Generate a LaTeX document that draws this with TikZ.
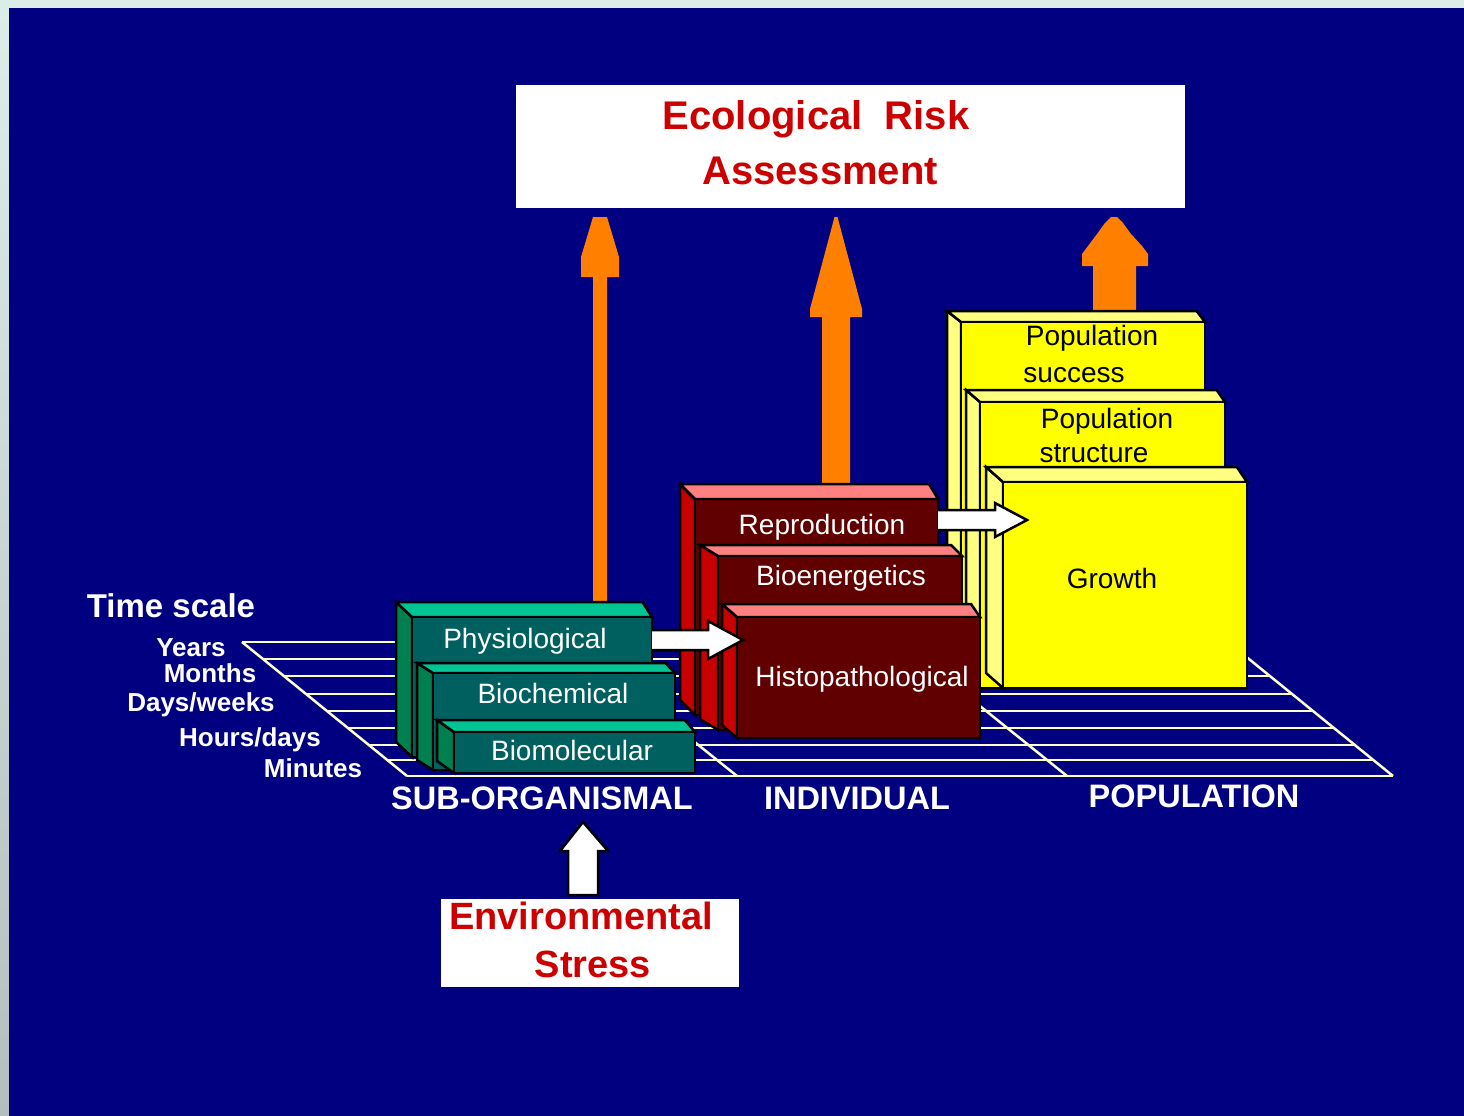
\documentclass[tikz,border=0pt]{standalone}
\usepackage{fontspec}
\setmainfont{Liberation Sans}
\usetikzlibrary{calc}
\definecolor{navy}{HTML}{000080}
\definecolor{marginc}{HTML}{DCEDE8}
\definecolor{margingray}{HTML}{B4BEBE}
\definecolor{arrowor}{HTML}{FF8000}
\definecolor{gridc}{HTML}{FFFFCC}
\definecolor{titlered}{HTML}{CC0000}
\definecolor{gfront}{HTML}{006060}
\definecolor{gtop}{HTML}{00C494}
\definecolor{gside}{HTML}{008050}
\definecolor{rfront}{HTML}{600000}
\definecolor{rtop}{HTML}{FF8080}
\definecolor{rside}{HTML}{C80000}
\definecolor{yfront}{HTML}{FFFF00}
\definecolor{ytop}{HTML}{FFFF80}
\definecolor{yside}{HTML}{FFFF80}
\newcommand{\fs}[1]{\fontsize{#1}{#1}\selectfont}
\tikzset{
  gridline/.style={draw=gridc, line width=2.5pt},
  face/.style={draw=black, line width=2.5pt, line join=miter},
  frontface/.style={face, anchor=north west, inner sep=0pt, outer sep=0pt},
  boxtext/.style={anchor=base, text=white, font=\fs{28}},
  poptext/.style={anchor=base, text=black, font=\fs{28}},
  scaletext/.style={anchor=base, text=white, font=\bfseries\fs{26}},
  axistext/.style={anchor=base, text=white, font=\bfseries\fs{32.5}},
  titletext/.style={anchor=base, text=titlered, font=\bfseries\fs{40}},
  stresstext/.style={anchor=base, text=titlered, font=\bfseries\fs{38}},
  orangearrow/.style={fill=arrowor},
  whitearrow/.style={fill=white, draw=black, line width=2.5pt, line join=miter},
  whitebox/.style={fill=white, anchor=north west, inner sep=0pt, outer sep=0pt},
}
% #1 name, #2 fx, #3 fy, #4 fw, #5 fh, #6 dx, #7 dy, #8 colour prefix
\newcommand{\slab}[8]{%
  \filldraw[face, fill=#8side] (#2,#3) -- ({#2-#6},{#3-#7}) -- ({#2-#6},{#3+#5-#7}) -- (#2,{#3+#5}) -- cycle;
  \filldraw[face, fill=#8top] (#2,#3) -- ({#2-#6},{#3-#7}) -- ({#2+#4-0.6*#6},{#3-#7}) -- ({#2+#4},#3) -- cycle;
  \node[frontface, fill=#8front, minimum width=#4pt, minimum height=#5pt] (#1) at (#2,#3) {};
}
\begin{document}
\begin{tikzpicture}[x=1pt,y=-1pt]
\useasboundingbox (0,0) rectangle (1464,1116);
% background
\fill[marginc] (0,0) rectangle (1464,1116);
\fill[top color=marginc, bottom color=margingray] (0,8) rectangle (9,1116);
\fill[navy] (9,8) rectangle (1464,1116);

% floor grid
\foreach \yy in {642,659,676,694,711,728,745,760,776}{
  \draw[gridline] ({242+(\yy-642)*1.231},\yy) -- ({1228+(\yy-642)*1.231},\yy);
}
\coordinate (fl1) at (242,642);
\coordinate (fl2) at (407,776);
\coordinate (fr1) at (1228,642);
\coordinate (fr2) at (1393,776);
\coordinate (fm1a) at (656,711);
\coordinate (fm1b) at (737,776);
\coordinate (fm2a) at (965,694);
\coordinate (fm2b) at (1067,776);
\draw[gridline] (fl1) -- (fl2);
\draw[gridline] (fr1) -- (fr2);
\draw[gridline] (fm1a) -- (fm1b);
\draw[gridline] (fm2a) -- (fm2b);

% orange arrows
\coordinate (o1tip) at (600,217);
\coordinate (o2tip) at (836,217);
\coordinate (o3tip) at (1114,217);
\fill[orangearrow, shift={(o1tip)}] (-7,0) -- (-19,40) -- (-19,60) -- (-7,60) -- (-7,393) -- (7,393) -- (7,60) -- (19,60) -- (19,40) -- (7,0) -- cycle;
\fill[orangearrow, shift={(o2tip)}] (-1.5,0) -- (-26,92) -- (-26,100) -- (-14,100) -- (-14,275) -- (14,275) -- (14,100) -- (26,100) -- (26,92) -- (1.5,0) -- cycle;
\fill[orangearrow, shift={(o3tip)}] (-3,0) -- (-9,6) -- (-17,17) -- (-26,29) -- (-32,37) -- (-32,49) -- (-21,49) -- (-21,100) -- (22,100) -- (22,49) -- (34,49) -- (34,37) -- (28,29) -- (17,17) -- (9,6) -- (3,0) -- cycle;

% yellow slabs (population)
\slab{ysucc}{961}{322}{244}{366}{14}{11}{y}
\slab{ystruct}{980}{402}{245}{286}{14}{12}{y}
\slab{ygrowth}{1003}{482}{244}{206}{17}{15}{y}
% red slabs (individual)
\slab{rrepro}{695}{499}{243}{216}{15}{15}{r}
\slab{rbioen}{718}{556}{244}{174}{18}{11}{r}
\slab{rhisto}{737}{617}{243}{121}{15}{13}{r}
% green slabs (sub-organismal)
\slab{gphys}{412}{617}{240}{140}{16}{15}{g}
\slab{gbioch}{433}{673}{242}{97}{16}{10}{g}
\slab{gbiomol}{454}{732}{241}{41}{17}{12}{g}

% box labels
\node[poptext] (tsucc1) at (1092,345) {Population};
\node[poptext] (tsucc2) at (1074,382) {success};
\node[poptext] (tstruct1) at (1107,428) {Population};
\node[poptext] (tstruct2) at (1094,462) {structure};
\node[poptext] (tgrowth) at (1112,588) {Growth};
\node[boxtext] (trepro) at (822,534) {Reproduction};
\node[boxtext] (tbioen) at (841,585) {Bioenergetics};
\node[boxtext] (thisto) at (862,686) {Histopathological};
\node[boxtext] (tphys) at (525,648) {Physiological};
\node[boxtext] (tbioch) at (553,703) {Biochemical};
\node[boxtext] (tbiomol) at (572,760) {Biomolecular};

% white block arrows
\coordinate (waS) at (652,640);
\coordinate (waT) at (743,640);
\coordinate (wbS) at (938,520);
\coordinate (wbT) at (1027,520);
\filldraw[whitearrow] ($(waS)+(0,-10)$) -- ($(waT)+(-35,-10)$) -- ($(waT)+(-35,-19)$) -- (waT) -- ($(waT)+(-35,19)$) -- ($(waT)+(-35,10)$) -- ($(waS)+(0,10)$);
\filldraw[whitearrow] ($(wbS)+(0,-10)$) -- ($(wbT)+(-32,-10)$) -- ($(wbT)+(-32,-17)$) -- (wbT) -- ($(wbT)+(-32,17)$) -- ($(wbT)+(-32,10)$) -- ($(wbS)+(0,10)$);
\coordinate (wcT) at (583,822);
\filldraw[whitearrow, shift={(wcT)}] (0,0) -- (-23,29) -- (-15,29) -- (-15,73) -- (15,73) -- (15,29) -- (25,29) -- cycle;

% title boxes
\node[whitebox, minimum width=669pt, minimum height=123pt] (erabox) at (516,85) {};
\node[titletext] (era1) at (816,129) {Ecological~~Risk};
\node[titletext] (era2) at (820,184) {Assessment};
\node[whitebox, minimum width=298pt, minimum height=88pt] (envbox) at (441,899) {};
\node[stresstext] (env1) at (581,929) {Environmental};
\node[stresstext] (env2) at (593,977) {Stress};

% axis labels
\node[axistext] (lsub) at (542,809) {SUB-ORGANISMAL};
\node[axistext] (lind) at (857,809) {INDIVIDUAL};
\node[axistext] (lpop) at (1194,807) {POPULATION};

% time scale
\node[anchor=base, text=white, font=\bfseries\fs{33}] (ltime) at (171,617) {Time scale};
\node[scaletext] (lyears) at (191,656) {Years};
\node[scaletext] (lmonths) at (210,682) {Months};
\node[scaletext] (ldays) at (201,711) {Days/weeks};
\node[scaletext] (lhours) at (250,746) {Hours/days};
\node[scaletext] (lmin) at (313,777) {Minutes};
\end{tikzpicture}
\end{document}
